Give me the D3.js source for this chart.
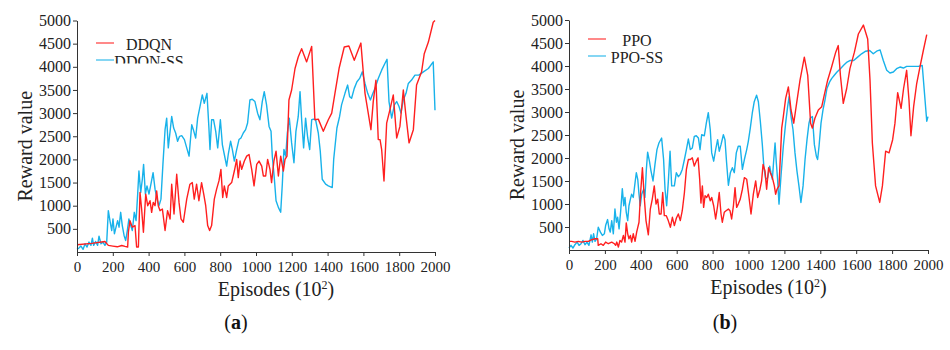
<!DOCTYPE html>
<html>
<head>
<meta charset="UTF-8">
<title>Reward curves</title>
<style>
  body { margin: 0; background: #fff; }
  svg { display: block; font-family: 'Liberation Serif', 'Times New Roman', serif; }
  .axis path, .axis line { stroke: #333; }
  .axis text { fill: #222; }
</style>
</head>
<body>
<div id="chart"></div>
<script src="https://d3js.org/d3.v7.min.js"></script>
<script>
// episode ticks (x10^2) and reward ticks
const xTicks = [0, 200, 400, 600, 800, 1000, 1200, 1400, 1600, 1800, 2000];
const yTicks = [500, 1000, 1500, 2000, 2500, 3000, 3500, 4000, 4500, 5000];

// (a) DDQN
const ddqnX = [0,82,156,175,200,225,250,268,283,287,296,309,324,333,343,352,361,371,384,395,408,417,426,436,445,454,464,477,492,506,520,529,542,557,570,581,594,613,631,644,655,668,681,696,708,719,730,741,752,767,780,793,804,814,823,836,845,864,879,892,901,911,920,935,948,961,976,989,1004,1017,1032,1041,1054,1065,1078,1087,1100,1112,1125,1138,1153,1162,1173,1184,1199,1218,1236,1255,1283,1311,1329,1348,1376,1404,1423,1441,1464,1493,1519,1549,1586,1609,1627,1642,1655,1670,1683,1693,1702,1715,1730,1748,1767,1786,1804,1823,1836,1855,1879,1897,1925,1940,1963,1990,2000];
const ddqnY = [157,186,228,143,128,112,140,121,107,428,678,536,571,107,107,1285,928,428,1250,1000,1107,857,1071,1000,1321,1000,893,928,464,893,714,1464,821,1678,1071,714,643,1142,1464,1499,1142,1464,1107,1499,1250,1000,571,464,571,1142,1357,1535,1785,1178,1428,1178,1428,1499,1749,1999,1607,1964,1785,1964,2071,2106,1785,1428,1892,1964,1856,1642,1642,1999,1785,1499,1964,2178,1642,2071,1749,1999,2071,3284,3499,3963,4213,4391,4106,4441,2856,2870,2606,2856,2999,3427,3963,4427,4448,4141,4512,3427,2999,2642,3249,3713,2428,2428,2213,1535,2785,3070,3392,2463,2713,3499,2999,2356,2642,3606,3891,4284,4534,4962,5000];

// (a) DDQN-SS
const ddqnSSX = [0,11,22,34,45,56,67,78,86,93,104,115,123,134,145,156,166,175,184,194,201,209,218,227,235,244,253,263,272,281,290,300,309,320,330,339,346,356,365,372,382,391,402,413,425,436,447,458,469,480,492,501,510,520,529,540,551,562,573,585,600,613,626,641,650,663,674,687,700,711,726,737,743,752,763,775,786,801,812,823,836,845,858,868,879,892,905,916,929,942,953,966,979,994,1009,1022,1035,1046,1059,1073,1084,1091,1102,1112,1125,1138,1147,1156,1166,1175,1186,1199,1212,1223,1236,1246,1255,1266,1277,1289,1300,1311,1322,1333,1348,1359,1370,1389,1404,1426,1434,1452,1467,1478,1497,1512,1523,1534,1549,1564,1579,1594,1609,1624,1639,1653,1665,1683,1702,1720,1732,1743,1758,1773,1786,1799,1810,1823,1838,1851,1869,1888,1910,1935,1963,1990,2000];
const ddqnSSY = [57,86,128,57,178,107,214,143,300,143,228,143,343,178,214,143,214,893,678,464,714,393,536,678,536,857,571,357,250,464,714,571,464,857,678,1250,1749,1285,1571,1892,1250,1428,1250,1464,1714,1357,1142,1000,1142,1892,2642,2892,2249,2606,2927,2678,2570,2392,2499,2513,2428,2249,2071,2749,2642,2463,2892,3142,3392,3213,3427,2678,2213,2856,2856,2606,2249,2856,2321,2106,1856,2106,2392,2213,1964,2213,2428,2463,2570,2642,2785,3284,3299,3249,2999,2856,3249,3463,3177,2713,2606,2071,1607,1107,964,857,1464,2213,2071,2570,2892,2356,1928,2606,2927,3463,2856,2249,2892,2463,2213,2856,2870,2856,2570,2178,1571,1464,1428,1392,1999,2678,2927,3177,3427,3606,3356,3320,3534,3677,3749,3891,3641,3427,3284,3427,3534,3749,3927,4070,4163,3249,2892,3177,3249,3142,2999,3284,3427,3641,3713,3820,3820,3891,3963,4106,3060];

// (b) PPO
const ppoX = [0,15,33,52,71,89,108,126,145,160,163,178,191,204,219,238,253,260,266,275,284,293,303,312,319,327,334,342,349,358,368,377,390,399,409,420,429,442,453,464,475,485,494,503,513,522,531,542,553,565,576,587,598,609,620,631,643,654,665,676,687,698,709,719,728,735,743,750,758,767,776,787,795,806,817,828,837,847,854,865,875,888,897,906,916,925,934,943,954,966,977,990,1003,1014,1027,1040,1051,1064,1073,1081,1092,1101,1112,1122,1133,1144,1151,1159,1170,1185,1194,1207,1222,1237,1252,1268,1287,1311,1330,1346,1356,1370,1389,1408,1422,1441,1463,1486,1500,1512,1528,1547,1565,1590,1612,1640,1664,1677,1690,1708,1731,1746,1764,1783,1803,1816,1831,1850,1864,1881,1894,1905,1920,1937,1955,1974,1993];
const ppoY = [187,187,172,187,172,187,187,223,244,244,101,136,101,172,136,172,136,101,172,65,208,172,316,172,589,352,244,316,172,352,187,388,603,1249,1788,1106,639,330,890,1106,1393,998,1106,783,783,1249,747,747,639,495,711,531,689,783,639,854,1249,1752,1967,1967,2003,1824,1931,2003,1537,1020,1393,926,1178,1142,1213,1070,1142,962,675,962,1249,783,603,819,854,890,854,675,962,1357,926,998,1106,1321,1572,1537,1142,783,1213,1501,1142,1321,1501,1860,1716,1321,1788,1680,1572,1393,1213,1321,1393,2649,2901,3296,3547,3044,2757,3188,3691,4193,3798,2757,2649,2865,3044,3116,3367,3691,3978,4301,4444,3798,3188,3511,3942,4301,4696,4890,4588,3691,2326,1393,1034,1393,2147,2111,2398,2757,3418,3080,3511,3906,3260,2484,3116,3619,3978,4337,4681];

// (b) PPO-SS
const ppoSSX = [0,11,22,33,45,56,67,78,89,100,111,123,130,137,145,154,163,175,186,197,204,215,223,230,238,247,256,264,271,279,288,297,305,312,319,327,334,342,349,358,368,375,383,390,397,405,416,423,431,438,448,457,468,479,490,501,516,527,535,544,553,563,572,587,598,609,620,631,643,654,665,676,687,698,709,721,730,739,754,765,776,787,795,806,817,828,837,847,860,869,878,888,899,910,921,932,943,954,966,977,990,999,1010,1021,1032,1045,1055,1066,1077,1086,1096,1107,1118,1125,1133,1140,1148,1155,1162,1170,1181,1194,1207,1218,1226,1237,1248,1259,1270,1281,1292,1304,1315,1326,1337,1344,1356,1367,1378,1385,1393,1404,1415,1426,1437,1452,1463,1478,1493,1512,1530,1549,1567,1586,1608,1630,1653,1675,1695,1714,1733,1751,1770,1788,1807,1825,1844,1863,1881,1909,1946,1968,1993,2000];
const ppoSSY = [43,101,43,115,172,101,136,208,115,172,101,330,172,352,187,244,495,388,316,352,531,661,460,388,639,352,890,603,711,460,854,1335,962,1142,819,639,962,1106,1213,1142,1465,1680,1537,1213,962,1213,1321,1142,1752,2125,1931,1716,1501,1860,2183,2326,2434,1967,1321,962,1465,2147,1393,1393,1680,1594,1644,1752,1967,2183,2412,2183,2219,2470,2484,2434,2183,2506,2484,2757,2987,2614,2111,1931,2183,2398,2147,2290,2506,2398,1896,1407,1680,1788,1680,2111,2255,2255,1752,1967,2183,2362,2649,2973,3224,3367,3224,2793,2290,1788,1537,1572,1824,1680,1537,1931,2326,1896,1537,998,1608,2255,2757,3116,3332,2901,2614,2111,1716,1393,1034,1393,1967,2398,2757,2865,2901,2290,2039,1967,2255,2757,3044,3260,3511,3655,3726,3798,3870,3942,4014,4085,4121,4121,4193,4265,4322,4337,4265,4322,4351,4121,3906,3848,3870,3942,3978,3956,3992,3992,3992,4010,2800,2900];

const redColor = "#ff1f1f";
const cyanColor = "#18b2ea";
const serif = "'Liberation Serif', 'Times New Roman', serif";

const svg = d3.select("#chart").append("svg")
    .attr("width", 950)
    .attr("height", 350);

svg.append("rect").attr("width", 950).attr("height", 350).attr("fill", "#fff");

function zip(xs, ys) {
    return xs.map((x, i) => ({x: x, y: ys[i]}));
}

function drawPanel(p) {
    const x = d3.scaleLinear().domain([0, 2000]).range([p.left, p.right]);
    const y = d3.scaleLinear().domain([0, 5000]).range([p.bottom, p.top]);

    const line = d3.line().x(d => x(d.x)).y(d => y(d.y));

    svg.append("path")
        .datum(zip(p.ssX, p.ssY))
        .attr("fill", "none")
        .attr("stroke", cyanColor)
        .attr("stroke-width", 1.4)
        .attr("stroke-linejoin", "round")
        .attr("d", line);

    svg.append("path")
        .datum(zip(p.baseX, p.baseY))
        .attr("fill", "none")
        .attr("stroke", redColor)
        .attr("stroke-width", 1.4)
        .attr("stroke-linejoin", "round")
        .attr("d", line);

    svg.append("g")
        .attr("class", "axis")
        .attr("transform", `translate(0,${p.bottom})`)
        .call(d3.axisBottom(x).tickValues(xTicks).tickFormat(d3.format("d"))
            .tickSize(4).tickSizeOuter(0).tickPadding(5))
        .attr("font-family", serif)
        .attr("font-size", 15);

    svg.append("g")
        .attr("class", "axis")
        .attr("transform", `translate(${p.left},0)`)
        .call(d3.axisLeft(y).tickValues(yTicks).tickFormat(d3.format("d"))
            .tickSize(4).tickSizeOuter(0).tickPadding(2))
        .attr("font-family", serif)
        .attr("font-size", 16);

    // axis titles
    const xt = svg.append("text")
        .attr("x", (p.left + p.right) / 2 + 20)
        .attr("y", p.bottom + 44)
        .attr("text-anchor", "middle")
        .style("font-size", "20px")
        .attr("fill", "#222");
    xt.append("tspan").text("Episodes (10");
    xt.append("tspan").attr("dy", -7).style("font-size", "12px").text("2");
    xt.append("tspan").attr("dy", 7).text(")");

    svg.append("text")
        .attr("transform", `translate(${p.left - 45},${(p.top + p.bottom) / 2 + 10}) rotate(-90)`)
        .attr("text-anchor", "middle")
        .style("font-size", "20px")
        .attr("fill", "#222")
        .text("Reward value");

    // legend
    const lg = svg.append("g");
    if (p.clipLegend) {
        svg.append("clipPath").attr("id", p.clipLegend)
            .append("rect").attr("x", p.left).attr("y", 0).attr("width", 200).attr("height", p.clipY);
        lg.attr("clip-path", `url(#${p.clipLegend})`);
    }
    const items = [
        {name: p.names[0], color: redColor, y: p.legendY},
        {name: p.names[1], color: cyanColor, y: p.legendY + 17}
    ];
    items.forEach(it => {
        lg.append("line")
            .attr("x1", p.left + 19).attr("x2", p.left + 37)
            .attr("y1", it.y).attr("y2", it.y)
            .attr("stroke", it.color).attr("stroke-width", 1.4).attr("opacity", 0.75);
        lg.append("text")
            .attr("x", p.left + p.legendTextX)
            .attr("y", it.y + 7)
            .attr("text-anchor", "middle")
            .style("font-size", "16px")
            .attr("fill", "#222")
            .text(it.name);
    });

    svg.append("text")
        .attr("x", p.tagX)
        .attr("y", 329)
        .attr("text-anchor", "middle")
        .style("font-size", "20px")
        .attr("fill", "#111")
        .html(`(<tspan font-weight="bold">${p.tag}</tspan>)`);
}

drawPanel({
    left: 77, right: 435, top: 20.5, bottom: 252,
    baseX: ddqnX, baseY: ddqnY, ssX: ddqnSSX, ssY: ddqnSSY,
    names: ["DDQN", "DDQN-SS"], legendY: 43, legendTextX: 72,
    clipLegend: "clipA", clipY: 63.5,
    tag: "a", tagX: 236
});

drawPanel({
    left: 569, right: 928, top: 20, bottom: 250,
    baseX: ppoX, baseY: ppoY, ssX: ppoSSX, ssY: ppoSSY,
    names: ["PPO", "PPO-SS"], legendY: 39, legendTextX: 68,
    tag: "b", tagX: 725
});
</script>
</body>
</html>
